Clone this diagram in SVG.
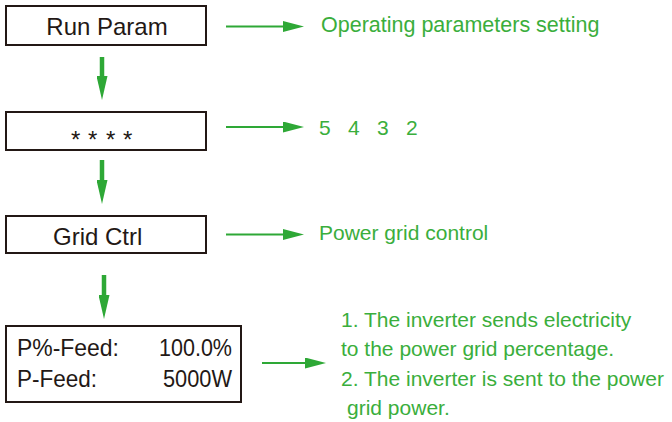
<svg xmlns="http://www.w3.org/2000/svg" width="672" height="422" viewBox="0 0 672 422">
  <style>
    .box { fill: #ffffff; stroke: #231815; stroke-width: 2; }
    .lbl { font-family: "Liberation Sans", Arial, sans-serif; font-size: 24px; fill: #231815; }
    .note { font-family: "Liberation Sans", Arial, sans-serif; font-size: 21px; fill: #3aae3c; }
    .hline { stroke: #2ea836; stroke-width: 2; fill: none; }
    .vline { stroke: #2ea836; stroke-width: 4.5; fill: none; }
  </style>
  <defs>
    <marker id="headH" markerUnits="userSpaceOnUse" viewBox="0 0 21 11" markerWidth="21" markerHeight="11" refX="0" refY="5.5" orient="auto">
      <path d="M0,0 L21,5.5 L0,11 Z" fill="#2ea836"/>
    </marker>
    <marker id="headV" markerUnits="userSpaceOnUse" viewBox="0 0 24 11" markerWidth="24" markerHeight="11" refX="0" refY="5.5" orient="auto">
      <path d="M0,0 L24,5.5 L0,11 Z" fill="#2ea836"/>
    </marker>
  </defs>

  <g id="node-run-param">
    <rect class="box" x="6" y="6" width="200" height="39"/>
    <text class="lbl" x="107" y="35" text-anchor="middle">Run Param</text>
  </g>

  <g id="node-password">
    <rect class="box" x="6" y="112" width="200" height="38"/>
    <text class="lbl" x="71 88 106 123" y="148">****</text>
  </g>

  <g id="node-grid-ctrl">
    <rect class="box" x="6" y="216" width="200" height="37"/>
    <text class="lbl" x="53" y="245">Grid Ctrl</text>
  </g>

  <g id="node-feed">
    <rect class="box" x="6" y="326" width="235" height="76"/>
    <text class="lbl" x="17" y="356" textLength="102" lengthAdjust="spacingAndGlyphs">P%-Feed:</text>
    <text class="lbl" x="232" y="356" text-anchor="end" textLength="73" lengthAdjust="spacingAndGlyphs">100.0%</text>
    <text class="lbl" x="17" y="387" textLength="80" lengthAdjust="spacingAndGlyphs">P-Feed:</text>
    <text class="lbl" x="232" y="387" text-anchor="end" textLength="69" lengthAdjust="spacingAndGlyphs">5000W</text>
  </g>

  <g id="note-operating">
    <text class="note" x="321" y="32" style="font-size:21.5px">Operating parameters setting</text>
  </g>
  <g id="note-countdown">
    <text class="note" x="319 348 377 406" y="135">5432</text>
  </g>
  <g id="note-grid-control">
    <text class="note" x="319" y="239.5">Power grid control</text>
  </g>
  <g id="note-feed">
    <text class="note" x="341" y="327">1. The inverter sends electricity</text>
    <text class="note" x="341" y="356">to the power grid percentage.</text>
    <text class="note" x="341" y="386">2. The inverter is sent to the power</text>
    <text class="note" x="347" y="415">grid power.</text>
  </g>

  <g id="connectors">
    <line class="vline" x1="102" y1="57" x2="102" y2="76" marker-end="url(#headV)"/>
    <line class="vline" x1="102" y1="160" x2="102" y2="180" marker-end="url(#headV)"/>
    <line class="vline" x1="104" y1="275" x2="104" y2="295" marker-end="url(#headV)"/>
    <line class="hline" x1="226" y1="26.5" x2="283" y2="26.5" marker-end="url(#headH)"/>
    <line class="hline" x1="226" y1="127" x2="283" y2="127" marker-end="url(#headH)"/>
    <line class="hline" x1="226" y1="234.5" x2="283" y2="234.5" marker-end="url(#headH)"/>
    <line class="hline" x1="262" y1="363" x2="305" y2="363" marker-end="url(#headH)"/>
  </g>
</svg>
